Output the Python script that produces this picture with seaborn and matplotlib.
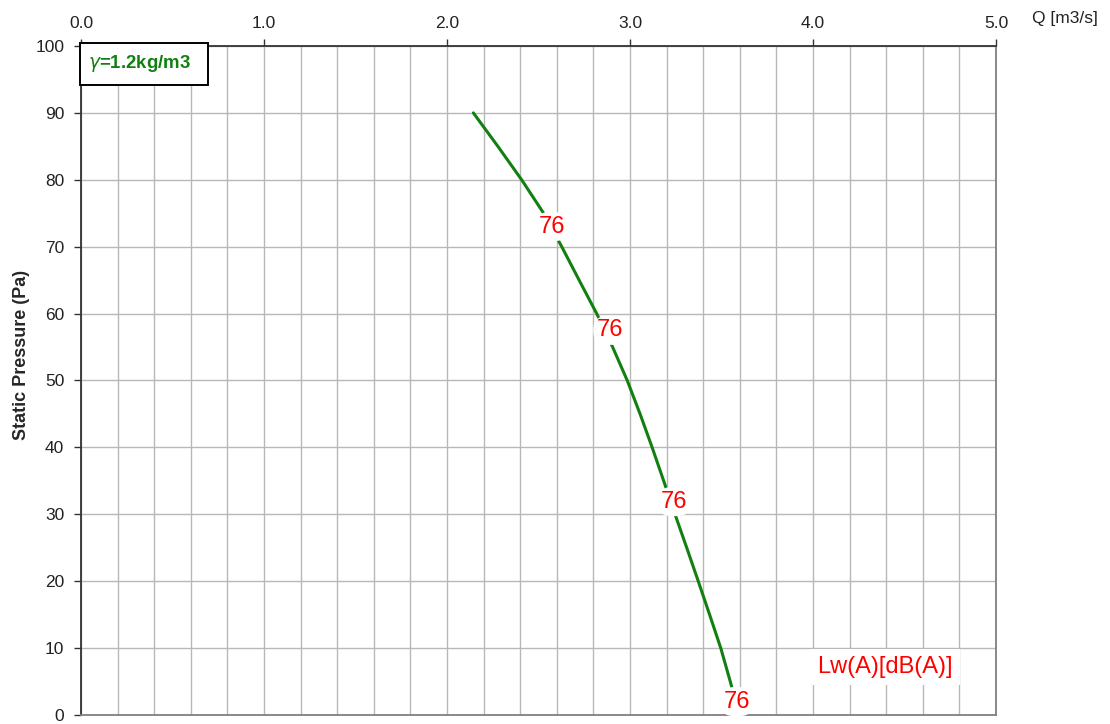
import numpy as np
import pandas as pd
import matplotlib
matplotlib.use("Agg")
import matplotlib.pyplot as plt
import seaborn as sns
from matplotlib.ticker import MultipleLocator, FormatStrFormatter
from matplotlib.patches import Rectangle

# curve
pressure = [90, 85, 80, 75, 70, 65, 60, 55, 50, 45, 40, 35, 30, 25, 20, 15, 10, 5, 0]
flow = [2.144, 2.278, 2.408, 2.528, 2.627, 2.722, 2.818, 2.905, 2.985, 3.055, 3.121, 3.184,
        3.246, 3.31, 3.373, 3.435, 3.496, 3.548, 3.596]

# sound power labels along the curve
label_q = [2.572, 2.891, 3.242, 3.583]
label_p = [73.0, 57.5, 31.9, 2.0]
label_txt = ["76", "76", "76", "76"]

sns.set_style("white")
plt.rcParams['font.family'] = ['Liberation Sans', 'DejaVu Sans']

fig = plt.figure(figsize=(11.10, 7.24), dpi=100)
ax = fig.add_axes([81 / 1110, 9 / 724, 915 / 1110, 669 / 724])

df = pd.DataFrame({'Q': flow, 'P': pressure})
sns.lineplot(data=df, x='Q', y='P', sort=False, color='#118011', linewidth=2.2, ax=ax, zorder=3)

for q, p, t in zip(label_q, label_p, label_txt):
    ax.text(q, p, t, color='#ff0000', fontsize=17, ha='center', va='center', zorder=4,
            bbox=dict(boxstyle='round,pad=0.15,rounding_size=0.6', fc='white', ec='none'))

ax.set_xlim(0, 5)
ax.set_ylim(0, 100)
ax.xaxis.set_major_locator(MultipleLocator(1.0))
ax.xaxis.set_minor_locator(MultipleLocator(0.2))
ax.yaxis.set_major_locator(MultipleLocator(10))
ax.xaxis.set_major_formatter(FormatStrFormatter('%.1f'))
ax.xaxis.tick_top()
ax.tick_params(axis='x', which='major', top=True, bottom=False, length=5, width=1,
               color='#333333', labelsize=12.5, labelcolor='#222222', pad=6)
ax.tick_params(axis='x', which='minor', top=False, bottom=False)
ax.tick_params(axis='y', left=True, length=5, width=1, color='#333333',
               labelsize=12.5, labelcolor='#222222', pad=7)
ax.grid(True, which='both', color='#b8b8b8', linewidth=1.0, zorder=0)
ax.set_axisbelow(True)

for side in ['top', 'left']:
    ax.spines[side].set_color('#333333')
    ax.spines[side].set_linewidth(1.3)
for side in ['right', 'bottom']:
    ax.spines[side].set_color('#808080')
    ax.spines[side].set_linewidth(1.3)

ax.set_xlabel('')
ax.set_ylabel('Static Pressure (Pa)', fontsize=13, fontweight='bold')
ax.yaxis.set_label_coords(-0.056, 0.538)

fig.text(1065 / 1110, 1 - 19 / 724, 'Q [m3/s]', fontsize=12.5, color='#222222', ha='center', va='center')

# density box in the top left corner
fig.patches.append(Rectangle((80 / 1110, 1 - 85 / 724), 128 / 1110, 42 / 724,
                             transform=fig.transFigure, fc='white', ec='black', lw=1.4, zorder=10))
fig.text(88 / 1110, 1 - 63 / 724, r'$\gamma$=1.2kg/m3', fontsize=13.4, fontweight='bold',
         color='#118011', ha='left', va='center', zorder=11)

ax.text(0.879, 0.072, 'Lw(A)[dB(A)]', transform=ax.transAxes, fontsize=17, color='#ff0000',
        ha='center', va='center', zorder=5,
        bbox=dict(boxstyle='square,pad=0.3', fc='white', ec='none'))

fig.savefig('out.png', dpi=100)
